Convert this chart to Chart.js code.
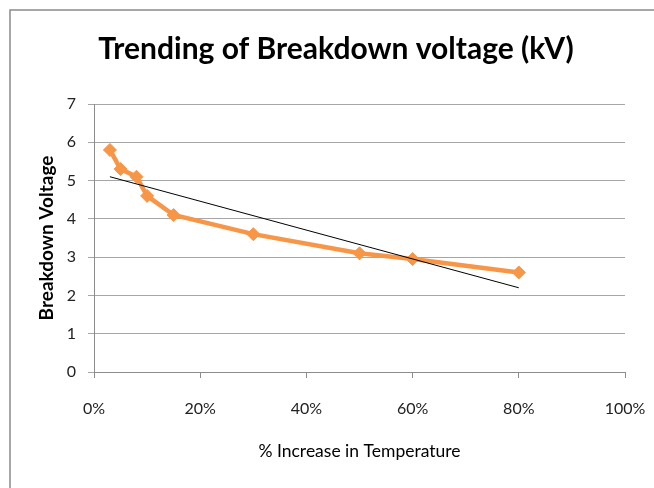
<!DOCTYPE html>
<html><head><meta charset="utf-8">
<script src="https://cdn.jsdelivr.net/npm/chart.js@4/dist/chart.umd.min.js"></script>
<style>html,body{margin:0;padding:0;background:#fff}#wrap{width:654px;height:488px}</style>
</head><body><div id="wrap"><canvas id="c" width="654" height="488"></canvas></div>
<script>
// Data
const percentIncrease = [3, 5, 8, 10, 15, 30, 50, 60, 80];
const breakdownVoltage = [5.8, 5.3, 5.1, 4.6, 4.1, 3.6, 3.1, 2.95, 2.6];
const trendX = [3, 80];
const trendY = [5.1, 2.2];
const xTickValues = [0, 20, 40, 60, 80, 100];
const yTickValues = [0, 1, 2, 3, 4, 5, 6, 7];
const chartTitle = 'Trending of Breakdown voltage (kV)';
const xTitle = '% Increase in Temperature';
const yTitle = 'Breakdown Voltage';

const mainPoints = percentIncrease.map((x, i) => ({x: x, y: breakdownVoltage[i]}));
const trendPoints = trendX.map((x, i) => ({x: x, y: trendY[i]}));

const frame = {
  id: 'frame',
  beforeDraw(chart) {
    const ctx = chart.ctx;
    ctx.save();
    ctx.fillStyle = '#fff';
    ctx.fillRect(0, 0, chart.width, chart.height);
    ctx.strokeStyle = '#8a8a8a';
    ctx.lineWidth = 1.5;
    ctx.beginPath();
    ctx.moveTo(10, chart.height + 2);
    ctx.lineTo(10, 10);
    ctx.lineTo(chart.width + 2, 10);
    ctx.stroke();
    ctx.restore();
  },
  afterLayout(chart) {
    if (chart.titleBlock) { chart.titleBlock.left = 18; chart.titleBlock.right = 654; }
  }
};

new Chart(document.getElementById('c'), {
  type: 'scatter',
  data: {
    datasets: [
      {
        data: mainPoints,
        showLine: true,
        borderColor: '#F79646',
        backgroundColor: '#F79646',
        borderWidth: 4.5,
        pointStyle: 'rectRot',
        pointRadius: 6.5,
        pointHoverRadius: 6.5,
        pointBorderWidth: 1,
        pointBorderColor: '#F79646',
        order: 2
      },
      {
        data: trendPoints,
        showLine: true,
        borderColor: '#000',
        borderWidth: 1,
        pointRadius: 0,
        order: 1
      }
    ]
  },
  plugins: [frame],
  options: {
    responsive: false,
    devicePixelRatio: 1,
    animation: false,
    layout: { padding: { left: 35, right: 29, top: 10, bottom: 26 } },
    plugins: {
      legend: { display: false },
      tooltip: { enabled: false },
      title: {
        display: true,
        text: chartTitle,
        color: '#000',
        font: { family: 'Lato', size: 30, weight: 'bold' },
        padding: { top: 21, bottom: 37 }
      }
    },
    scales: {
      x: {
        type: 'linear',
        min: 0, max: 100,
        afterBuildTicks(s) { s.ticks = xTickValues.map(v => ({value: v})); },
        afterFit(s) { s.height = 90; s.paddingLeft = 0; s.paddingRight = 0; },
        grid: { drawOnChartArea: false, drawTicks: true, tickLength: 6, color: '#8c8c8c' },
        border: { color: '#8c8c8c', width: 1 },
        ticks: {
          padding: 21,
          color: '#222',
          font: { family: 'Lato', size: 16 },
          maxRotation: 0,
          callback: v => v + '%'
        },
        title: {
          display: true, text: xTitle, color: '#000',
          font: { family: 'Lato', size: 17.5 },
          padding: 0
        }
      },
      y: {
        min: 0, max: 7,
        afterBuildTicks(s) { s.ticks = yTickValues.map(v => ({value: v})); },
        afterFit(s) { s.width = 59; },
        grid: { drawOnChartArea: true, drawTicks: true, tickLength: 6, color: '#a6a6a6' },
        border: { color: '#8c8c8c', width: 1 },
        ticks: {
          padding: 12,
          color: '#222',
          font: { family: 'Lato', size: 16 }
        },
        title: {
          display: true, text: yTitle, color: '#000',
          font: { family: 'Lato', size: 19, weight: 'bold' },
          padding: 0
        }
      }
    }
  }
});
</script></body></html>
